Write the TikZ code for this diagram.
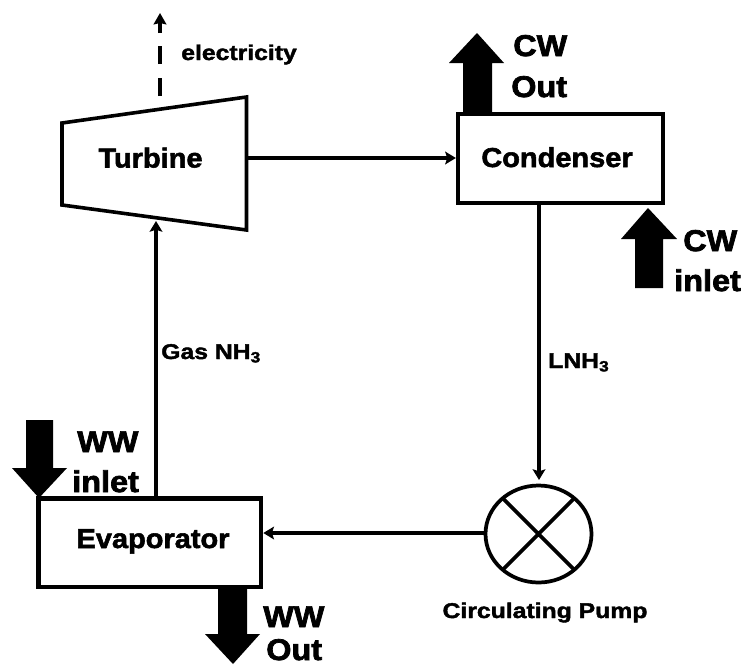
\documentclass[tikz,border=0pt]{standalone}
\usepackage{fontspec}
\setmainfont{Liberation Sans}
\newfontfamily\boxfont{Liberation Sans}[BoldFeatures={FakeBold=2,FakeStretch=1.06}]
\newfontfamily\labfont{Liberation Sans}[BoldFeatures={FakeBold=1.9,FakeStretch=1.16}]
\newfontfamily\bigfont{Liberation Sans}[BoldFeatures={FakeBold=2.4,FakeStretch=1.08}]
\usetikzlibrary{arrows.meta,shapes.geometric}
\tikzset{
 box/.style={draw=black,line width=3.3pt,fill=white,inner sep=0pt,outer sep=0pt},
 boxtxt/.style={font=\boxfont\bfseries\fontsize{20.5}{22}\selectfont,inner sep=0pt,anchor=base},
 flow/.style={draw=black,line width=2.3pt,-{Stealth[length=8pt,width=9.5pt,inset=1.5pt]}},
 lab/.style={font=\labfont\bfseries\fontsize{16}{18}\selectfont,inner sep=0pt,anchor=base west},
 biglab/.style={font=\bigfont\bfseries\fontsize{22.5}{24}\selectfont,inner sep=0pt,anchor=base west},
 thin stroke/.style={line width=2.7pt}
}
\begin{document}
\begin{tikzpicture}[x=0.75pt,y=-0.75pt]
\useasboundingbox (0,0) rectangle (745,664);
% fat arrows
\fill[black] (463,115) -- (463,63) -- (449,63) -- (477,33) -- (504,63) -- (492,63) -- (492,115) -- cycle;
\fill[black] (635,288) -- (635,239) -- (621,239) -- (648,208) -- (677,239) -- (663,239) -- (663,288) -- cycle;
\fill[black] (26,420) -- (26,468) -- (12,468) -- (39,498) -- (67,468) -- (53,468) -- (53,420) -- cycle;
\fill[black] (218,585) -- (218,634) -- (205,634) -- (233,664) -- (260,634) -- (247,634) -- (247,585) -- cycle;
% boxes
\node[box,minimum width=153.75pt,minimum height=66.75pt,anchor=north west] (cond) at (458,114) {};
\node[box,minimum width=167pt,minimum height=66.5pt,anchor=north west] (evap) at (38.5,498.5) {};
\draw[thin stroke,line join=miter] (62,123) -- (246.5,97) -- (246.5,230) -- (62,205) -- cycle;
\node[boxtxt] (tcond) at (557,167) {Condenser};
\node[boxtxt] (tevap) at (153,548) {Evaporator};
\node[boxtxt] (turb) at (150.5,167.5) {Turbine};
\coordinate (turbR) at (248,158);
\coordinate (turbB) at (156,221);
\coordinate (turbT) at (160,96);
\coordinate (elec) at (160,13);
% pump
\node[ellipse,draw=black,line width=2.8pt,outer sep=0pt,minimum width=79.5pt,minimum height=72.75pt,inner sep=0pt] (pump) at (538.5,534) {};
\draw[thin stroke] (pump.45) -- (pump.225) (pump.135) -- (pump.315);
% connectors
\draw[flow] (turbR) -- ([xshift=-1.6pt]cond.west |- turbR);
\draw[flow] (cond.south -| 539,0) -- (539,480);
\draw[flow] (pump.west |- 0,533) -- ([xshift=1.6pt]evap.east |- 0,533);
\draw[flow] (evap.north -| 156,0) -- (turbB);
\draw[line width=3pt,dash pattern=on 13.5pt off 10.5pt on 13.5pt off 9.75pt on 20pt,-{Stealth[length=8.5pt,width=9.5pt,inset=1pt]}] (turbT) -- (elec);
% labels
\node[lab] (lelec) at (181,60) {electricity};
\node[lab] (lgas) at (161,359) {Gas NH\textsubscript{3}};
\node[lab] (lnh) at (548,368) {LNH\textsubscript{3}};
\node[lab,anchor=base] (lpump) at (545,618) {Circulating Pump};
\node[biglab] (cwo1) at (513,56) {CW};
\node[biglab] (cwo2) at (511,97) {Out};
\node[biglab] (cwi1) at (683,251) {CW};
\node[biglab] (cwi2) at (674,291) {inlet};
\node[biglab] (wwi1) at (77,452) {WW};
\node[biglab] (wwi2) at (72,492) {inlet};
\node[biglab] (wwo1) at (263,627) {WW};
\node[biglab] (wwo2) at (266,660) {Out};
\end{tikzpicture}
\end{document}
